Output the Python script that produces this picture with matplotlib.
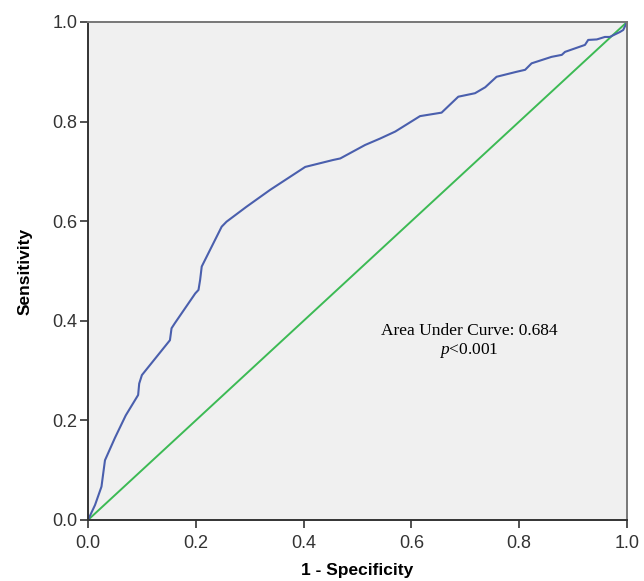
import matplotlib
matplotlib.use('Agg')
import matplotlib.pyplot as plt

plt.rcParams['font.family'] = ['Liberation Sans', 'DejaVu Sans']
plt.rcParams['mathtext.fontset'] = 'custom'
plt.rcParams['mathtext.it'] = 'Liberation Serif:italic'
plt.rcParams['mathtext.rm'] = 'Liberation Serif'

# ROC curve points (1 - specificity, sensitivity)
fpr = [0.0, 0.013, 0.025, 0.0315, 0.05, 0.07, 0.093, 0.095, 0.1, 0.152, 0.155, 0.161,
       0.199, 0.205, 0.208, 0.211, 0.248, 0.257, 0.294, 0.338, 0.403, 0.455,
       0.468, 0.514, 0.542, 0.570, 0.616, 0.656, 0.687, 0.718, 0.737, 0.758,
       0.795, 0.811, 0.823, 0.860, 0.879, 0.885, 0.922, 0.928, 0.944, 0.959,
       0.968, 0.987, 0.993, 1.0]
tpr = [0.0, 0.03, 0.067, 0.12, 0.165, 0.21, 0.251, 0.274, 0.291, 0.361, 0.385, 0.395,
       0.455, 0.462, 0.482, 0.509, 0.589, 0.599, 0.629, 0.663, 0.709, 0.723,
       0.726, 0.753, 0.766, 0.780, 0.811, 0.818, 0.850, 0.857, 0.869, 0.890,
       0.900, 0.904, 0.917, 0.930, 0.934, 0.940, 0.954, 0.964, 0.965, 0.970,
       0.970, 0.980, 0.984, 1.0]
ref_line = [0.0, 1.0]
ticks = [0.0, 0.2, 0.4, 0.6, 0.8, 1.0]
auc_text = 'Area Under Curve: 0.684'

fig = plt.figure(figsize=(6.44, 5.81), dpi=100)
ax = fig.add_axes([88 / 644, 61 / 581, 539 / 644, 498 / 581])
ax.set_facecolor('#f0f0f0')

ax.plot(ref_line, ref_line, color='#3cba54', linewidth=1.4)
ax.plot(fpr, tpr, color='#4a5fad', linewidth=1.5)

ax.set_xlim(0, 1)
ax.set_ylim(0, 1)
ax.set_xticks(ticks)
ax.set_yticks(ticks)
ax.set_xticklabels([f'{t:.1f}' for t in ticks], fontsize=13, color='#333333')
ax.set_yticklabels([f'{t:.1f}' for t in ticks], fontsize=13, color='#333333')
ax.tick_params(direction='out', length=5.5, width=1.2, colors='#333333')
ax.tick_params(axis='x', pad=5)
ax.tick_params(axis='y', pad=2)

for side in ['left', 'bottom']:
    ax.spines[side].set_color('#333333')
    ax.spines[side].set_linewidth(1.4)
for side in ['top', 'right']:
    ax.spines[side].set_color('#777777')
    ax.spines[side].set_linewidth(1.4)

ax.set_xlabel('1 - Specificity', fontsize=12.5, fontweight='bold', labelpad=8)
ax.set_ylabel('Sensitivity', fontsize=12.5, fontweight='bold', labelpad=14)

ax.text(0.707, 0.38, auc_text, fontsize=12.5, family='Liberation Serif',
        ha='center', va='center', transform=ax.transAxes)
ax.text(0.707, 0.34, r'$p$<0.001', fontsize=12.5, family='Liberation Serif',
        ha='center', va='center', transform=ax.transAxes)

fig.savefig('out.png', dpi=100)
